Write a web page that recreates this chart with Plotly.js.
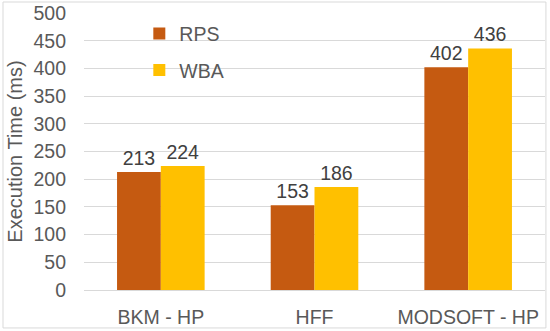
<!DOCTYPE html>
<html>
<head>
<meta charset="utf-8">
<script src="https://cdn.plot.ly/plotly-3.0.1.min.js"></script>
<style>html,body{margin:0;padding:0;background:#fff;}#chart{width:550px;height:331px;}</style>
</head>
<body>
<div id="chart"></div>
<script>
const categories = ["BKM - HP", "HFF", "MODSOFT - HP"];
const rpsValues = [213, 153, 402];
const wbaValues = [224, 186, 436];
const seriesNames = ["RPS", "WBA"];
const yTicks = [0, 50, 100, 150, 200, 250, 300, 350, 400, 450, 500];

const FONT = "Liberation Sans, Arial, sans-serif";
const FS = 19.5;
const traces = [
  {type: "bar", name: seriesNames[0], x: categories, y: rpsValues,
   marker: {color: "#C55A11"}, text: rpsValues.map(String), textposition: "outside",
   textfont: {family: FONT, size: FS, color: "#404040"}, cliponaxis: false,
   legendgroup: "a", hoverinfo: "none"},
  {type: "bar", name: seriesNames[1], x: categories, y: wbaValues,
   marker: {color: "#FFC000"}, text: wbaValues.map(String), textposition: "outside",
   textfont: {family: FONT, size: FS, color: "#404040"}, cliponaxis: false,
   legendgroup: "b", hoverinfo: "none"}
];
const layout = {
  width: 550, height: 331,
  margin: {l: 84, r: 5, t: 13, b: 41},
  paper_bgcolor: "#ffffff", plot_bgcolor: "#ffffff",
  font: {family: FONT, size: FS, color: "#595959"},
  barmode: "group", bargap: 0.43, bargroupgap: 0,
  xaxis: {showgrid: false, showline: false, zeroline: false, ticks: "",
          ticklabelstandoff: 13,
          tickfont: {family: FONT, size: FS, color: "#595959"}, fixedrange: true},
  yaxis: {range: [0, 500], tickvals: yTicks, ticktext: yTicks.map(String),
          showgrid: true, gridcolor: "#D9D9D9", gridwidth: 1,
          zeroline: true, zerolinecolor: "#D9D9D9", zerolinewidth: 1,
          showline: false, ticks: "", ticklabelstandoff: 17,
          tickfont: {family: FONT, size: FS, color: "#595959"},
          title: {text: "Execution Time (ms)", font: {family: FONT, size: 20, color: "#595959"}, standoff: 5},
          fixedrange: true},
  showlegend: true,
  legend: {x: 0.12, y: 0.995, xanchor: "left", yanchor: "top",
           bgcolor: "rgba(0,0,0,0)", traceorder: "grouped", tracegroupgap: 8,
           font: {family: FONT, size: FS, color: "#595959"}, itemwidth: 30},
  shapes: [{type: "rect", xref: "paper", yref: "paper",
            x0: -0.1757, x1: 1.002, y0: -0.137, y1: 1.0397,
            line: {color: "#D9D9D9", width: 1}, fillcolor: "rgba(0,0,0,0)", layer: "below"}]
};
Plotly.newPlot("chart", traces, layout, {staticPlot: true, displayModeBar: false});
</script>
</body>
</html>
